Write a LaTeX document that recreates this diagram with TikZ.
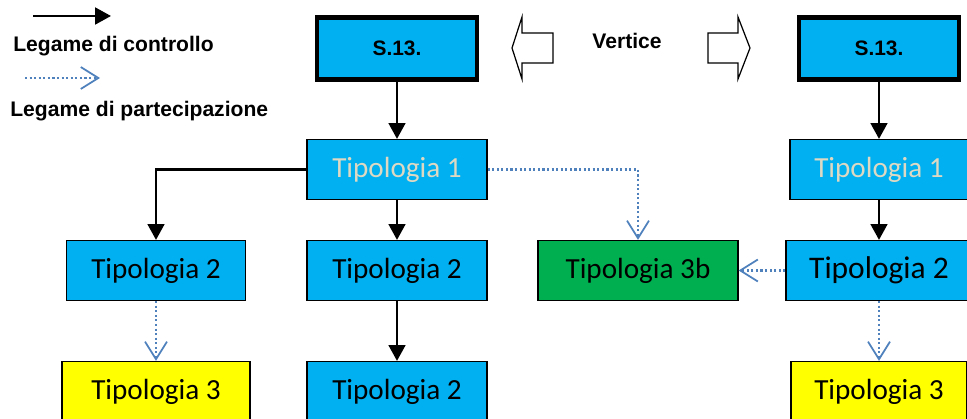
\documentclass[tikz,border=0pt]{standalone}
\usepackage{fontspec}
\setmainfont{Carlito}
\newfontfamily\arialfont{Liberation Sans}
\usetikzlibrary{arrows.meta}
\definecolor{tipoblu}{HTML}{00B0F0}
\definecolor{tipoverde}{HTML}{00B050}
\definecolor{tipogiallo}{HTML}{FFFF00}
\definecolor{tipochiaro}{HTML}{DDD9C3}
\definecolor{partecblu}{HTML}{4F81BD}
\tikzstyle{vertice} = [rectangle, minimum width=3.2cm, minimum height=1.24cm, text centered, draw=black, line width=2.8pt, fill=tipoblu, font=\arialfont\bfseries\fontsize{11.9}{14}\selectfont]
\tikzstyle{tipo} = [rectangle, minimum width=3.6cm, minimum height=1.2cm, text centered, draw=black, line width=0.7pt, fill=tipoblu, font=\fontsize{16.6}{20}\selectfont]
\tikzstyle{legenda} = [anchor=west, inner sep=0pt, font=\arialfont\bfseries\fontsize{12}{14}\selectfont]
\tikzstyle{arrow} = [line width=1.4pt, -{Triangle[width=9.5pt,length=9pt]}]
\tikzstyle{partec} = [partecblu, line width=1.3pt, dash pattern=on 1.2pt off 1.4pt, -{Straight Barb[length=10pt,width=12.5pt,line width=1pt]}]
\tikzstyle{blocco} = [draw=black, line width=0.7pt, fill=white]

\begin{document}
\begin{tikzpicture}[node distance=2.42cm]
\useasboundingbox (0,0) rectangle (19.34,-8.38);
\clip (0,0) rectangle (19.34,-8.38);

% legenda
\coordinate (ctrlA) at (0.66,-0.32);
\coordinate (ctrlB) at (2.22,-0.32);
\coordinate (partA) at (0.5,-1.56);
\coordinate (partB) at (2.0,-1.56);
\node (lctrl) [legenda] at (0.26,-0.92) {Legame di controllo};
\node (lpart) [legenda] at (0.2,-2.22) {Legame di partecipazione};
\draw [arrow] (ctrlA) -- (ctrlB);
\draw [partec] (partA) -- (partB);

% vertice
\node (vert) [legenda, anchor=center] at (12.54,-0.82) {Vertice};
\draw [blocco] (10.24,-0.96) -- (10.44,-0.34) -- (10.44,-0.66) -- (11.06,-0.66) -- (11.06,-1.26) -- (10.44,-1.26) -- (10.44,-1.58) -- cycle;
\draw [blocco] (14.16,-0.66) -- (14.76,-0.66) -- (14.76,-0.34) -- (15.0,-0.96) -- (14.76,-1.58) -- (14.76,-1.26) -- (14.16,-1.26) -- cycle;

\node (s13L) [vertice] at (7.94,-0.97) {S.13.};
\node (t1L) [tipo, below of=s13L, text=tipochiaro] {Tipologia 1};
\node (t2M) [tipo, below of=t1L, yshift=0.4cm] {Tipologia 2};
\node (t2B) [tipo, below of=t2M] {Tipologia 2};
\node (t2L) [tipo, left of=t2M, xshift=-2.4cm, minimum width=3.58cm] {Tipologia 2};
\node (t3L) [tipo, below of=t2L, fill=tipogiallo, minimum width=3.76cm] {Tipologia 3};
\node (t3b) [tipo, right of=t2M, xshift=2.4cm, fill=tipoverde, minimum width=4cm] {Tipologia 3b};
\node (t2R) [tipo, right of=t3b, xshift=2.4cm, minimum width=3.72cm, font=\fontsize{17.9}{21}\selectfont] {Tipologia 2};
\node (t1R) [tipo, above of=t2R, yshift=-0.4cm, minimum width=3.56cm, text=tipochiaro] {Tipologia 1};
\node (s13R) [vertice, above of=t1R] {S.13.};
\node (t3R) [tipo, below of=t2R, fill=tipogiallo, minimum width=3.52cm] {Tipologia 3};

\draw [arrow] (s13L) -- (t1L);
\draw [arrow] (t1L.west) -| (t2L.north);
\draw [arrow] (t1L) -- (t2M);
\draw [arrow] (t2M) -- (t2B);
\draw [partec] (t1L.east) -| (t3b.north);
\draw [partec] (t2L) -- (t3L);
\draw [arrow] (s13R) -- (t1R);
\draw [arrow] (t1R) -- (t2R);
\draw [partec] (t2R.west) -- (t3b.east);
\draw [partec] (t2R) -- (t3R);

\end{tikzpicture}
\end{document}
